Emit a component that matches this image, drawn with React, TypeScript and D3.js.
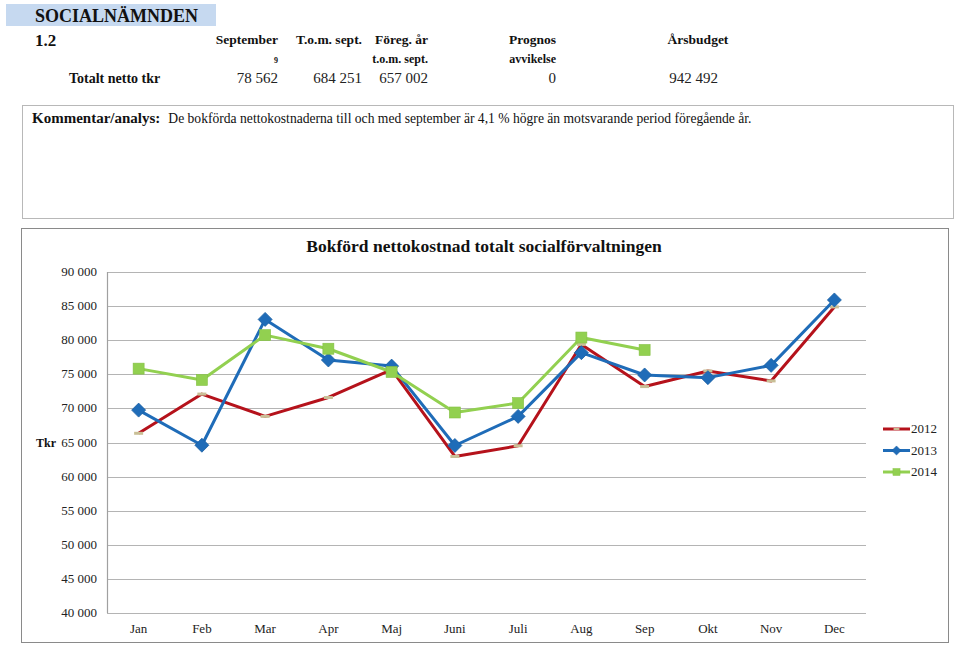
import React from 'react';
import * as d3 from 'd3';

// Monthly booked net cost (tkr)
const months = ['Jan', 'Feb', 'Mar', 'Apr', 'Maj', 'Juni', 'Juli', 'Aug', 'Sep', 'Okt', 'Nov', 'Dec'];
const values2012 = [66350, 72100, 68830, 71600, 75700, 62950, 64520, 79380, 73200, 75490, 74030, 84880];
const values2013 = [69750, 64600, 83050, 77100, 76200, 64560, 68830, 78170, 74900, 74510, 76310, 85900];
const values2014 = [75830, 74170, 80740, 78750, 75340, 69400, 70780, 80390, 78562];
const yTicks = [40000, 45000, 50000, 55000, 60000, 65000, 70000, 75000, 80000, 85000, 90000];

// Header table
const tableCols = ['September', 'T.o.m. sept.', 'Föreg. år', 'Prognos'];
const tableCols2 = ['9', '', 't.o.m. sept.', 'avvikelse'];
const tableVals = ['78 562', '684 251', '657 002', '0'];
const budgetVal = '942 492';

const FONT = "'Liberation Serif', 'Times New Roman', Tinos, 'DejaVu Serif', serif";

const series = [
  { name: '2012', values: values2012, color: '#b5121b', marker: 'dash' },
  { name: '2013', values: values2013, color: '#1f6cb8', marker: 'diamond' },
  { name: '2014', values: values2014, color: '#92d050', marker: 'square' },
];

const fmt = d3.formatLocale({ decimal: ',', thousands: ' ', grouping: [3], currency: ['', ''] }).format(',');

const Marker = ({ type, x, y, color }: { type: string; x: number; y: number; color: string }) => {
  if (type === 'diamond') {
    const s = 7;
    return <path d={`M${x},${y - s}L${x + s},${y}L${x},${y + s}L${x - s},${y}Z`} fill={color} stroke="#1a5fa3" strokeWidth={0.8} />;
  }
  if (type === 'square') {
    return <rect x={x - 5.5} y={y - 5.5} width={11} height={11} fill={color} stroke="#84c044" strokeWidth={0.6} />;
  }
  return <rect x={x - 4.5} y={y - 1.5} width={9} height={3} fill="#c9bf96" />;
};

export default function App() {
  const left = 107, right = 866, top = 272, bottom = 613;
  const x = d3.scaleBand<string>().domain(months).range([left, right]).padding(0);
  const cx = (m: string) => (x(m) ?? 0) + x.bandwidth() / 2;
  const y = d3.scaleLinear().domain([40000, 90000]).range([bottom, top]);

  const line = d3.line<number>()
    .x((_, i) => cx(months[i]))
    .y(d => y(d));

  const colRight = [278, 362, 428, 556];

  return (
    <svg width={960} height={650} style={{ position: 'absolute', left: 0, top: 0, background: '#fff', fontFamily: FONT }}>
      {/* Header */}
      <rect x={6} y={4} width={210} height={22} fill="#c6d9f0" />
      <text x={35} y={22} fontSize={18} fontWeight="bold" fill="#111">SOCIALNÄMNDEN</text>
      <text x={35} y={46} fontSize={17} fontWeight="bold" fill="#111">1.2</text>
      {tableCols.map((c, i) => (
        <text key={c} x={colRight[i]} y={44} fontSize={13.5} fontWeight="bold" textAnchor="end" fill="#111">{c}</text>
      ))}
      <text x={698} y={44} fontSize={13.5} fontWeight="bold" textAnchor="middle" fill="#111">Årsbudget</text>
      {tableCols2.map((c, i) => (
        <text key={i} x={colRight[i]} y={63} fontSize={i === 0 ? 8 : 12} fontWeight="bold" textAnchor="end" fill="#111">{c}</text>
      ))}
      <text x={69} y={83} fontSize={14} fontWeight="bold" fill="#111">Totalt netto tkr</text>
      {tableVals.map((v, i) => (
        <text key={i} x={colRight[i]} y={83} fontSize={15} textAnchor="end" fill="#222">{v}</text>
      ))}
      <text x={718} y={83} fontSize={15} textAnchor="end" fill="#222">{budgetVal}</text>

      {/* Comment box */}
      <rect x={22.5} y={105.5} width={931} height={113} fill="#fff" stroke="#b8b8b8" />
      <text x={32} y={123} fontSize={15} fill="#111">
        <tspan fontWeight="bold">Kommentar/analys:</tspan>
        <tspan dx={8} fontSize={13.6}>De bokförda nettokostnaderna till och med september är 4,1 % högre än motsvarande period föregående år.</tspan>
      </text>

      {/* Chart box */}
      <rect x={21.5} y={228.5} width={927} height={414} fill="#fff" stroke="#8a8a8a" />
      <text x={484} y={252} fontSize={17.5} fontWeight="bold" textAnchor="middle" fill="#111">Bokförd nettokostnad totalt socialförvaltningen</text>

      {/* Grid and y axis */}
      {yTicks.map(t => (
        <g key={t}>
          <line x1={left} x2={right} y1={Math.round(y(t)) + 0.5} y2={Math.round(y(t)) + 0.5} stroke="#b4b4b4" strokeWidth={1.2} />
          <text x={97} y={y(t) + 4} fontSize={13} textAnchor="end" fill="#222">{fmt(t)}</text>
        </g>
      ))}
      <line x1={left + 0.5} x2={left + 0.5} y1={top} y2={bottom} stroke="#a0a0a0" strokeWidth={1.2} />
      <text x={36} y={y(65000) + 4} fontSize={12} fontWeight="bold" fill="#111">Tkr</text>

      {/* x axis labels */}
      {months.map(m => (
        <text key={m} x={cx(m)} y={633} fontSize={13} textAnchor="middle" fill="#222">{m}</text>
      ))}

      {/* Series */}
      {series.map(s => (
        <g key={s.name}>
          <path d={line(s.values) ?? ''} fill="none" stroke={s.color} strokeWidth={3} strokeLinejoin="round" />
          {s.values.map((v, i) => (
            <Marker key={i} type={s.marker} x={cx(months[i])} y={y(v)} color={s.color} />
          ))}
        </g>
      ))}

      {/* Legend */}
      {series.map((s, i) => {
        const ly = 429 + i * 21.5;
        return (
          <g key={s.name}>
            <line x1={883} x2={910} y1={ly} y2={ly} stroke={s.color} strokeWidth={3} />
            <g transform={`translate(896.5,${ly}) scale(0.65) translate(-896.5,${-ly})`}>
              <Marker type={s.marker} x={896.5} y={ly} color={s.color} />
            </g>
            <text x={911} y={ly + 4} fontSize={13} fill="#222">{s.name}</text>
          </g>
        );
      })}
    </svg>
  );
}
